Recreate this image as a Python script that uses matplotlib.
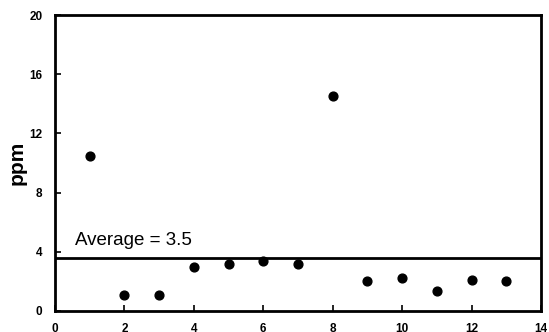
import matplotlib
matplotlib.use("Agg")
import matplotlib.pyplot as plt

# sample readings
sample = [1, 2, 3, 4, 5, 6, 7, 8, 9, 10, 11, 12, 13]
ppm = [10.5, 1.1, 1.1, 3.0, 3.2, 3.4, 3.2, 14.5, 2.0, 2.25, 1.35, 2.1, 2.0]
average_line = 3.6
average_label = "Average = 3.5"

x_ticks = [0, 2, 4, 6, 8, 10, 12, 14]
y_ticks = [0, 4, 8, 12, 16, 20]

plt.rcParams["font.family"] = ["Liberation Sans", "DejaVu Sans"]

fig = plt.figure(figsize=(5.49, 3.32), dpi=100)
ax = fig.add_axes([0.1002, 0.0633, 0.8852, 0.8915])

ax.scatter(sample, ppm, s=40, color="black", zorder=3)
ax.axhline(average_line, color="black", linewidth=2)
ax.text(0.58, 4.2, average_label, fontsize=13.5, ha="left", va="bottom")

ax.set_xlim(0, 14)
ax.set_ylim(0, 20)
ax.set_xticks(x_ticks)
ax.set_yticks(y_ticks)
ax.tick_params(direction="in", length=4, width=1.2, labelsize=8.5, pad=9)
ax.tick_params(axis="y", pad=9)
for lbl in ax.get_xticklabels() + ax.get_yticklabels():
    lbl.set_fontweight("bold")

for sp in ax.spines.values():
    sp.set_linewidth(2)

ax.set_ylabel("ppm", fontsize=15, fontweight="bold", labelpad=2)

fig.savefig("out.png", dpi=100)
